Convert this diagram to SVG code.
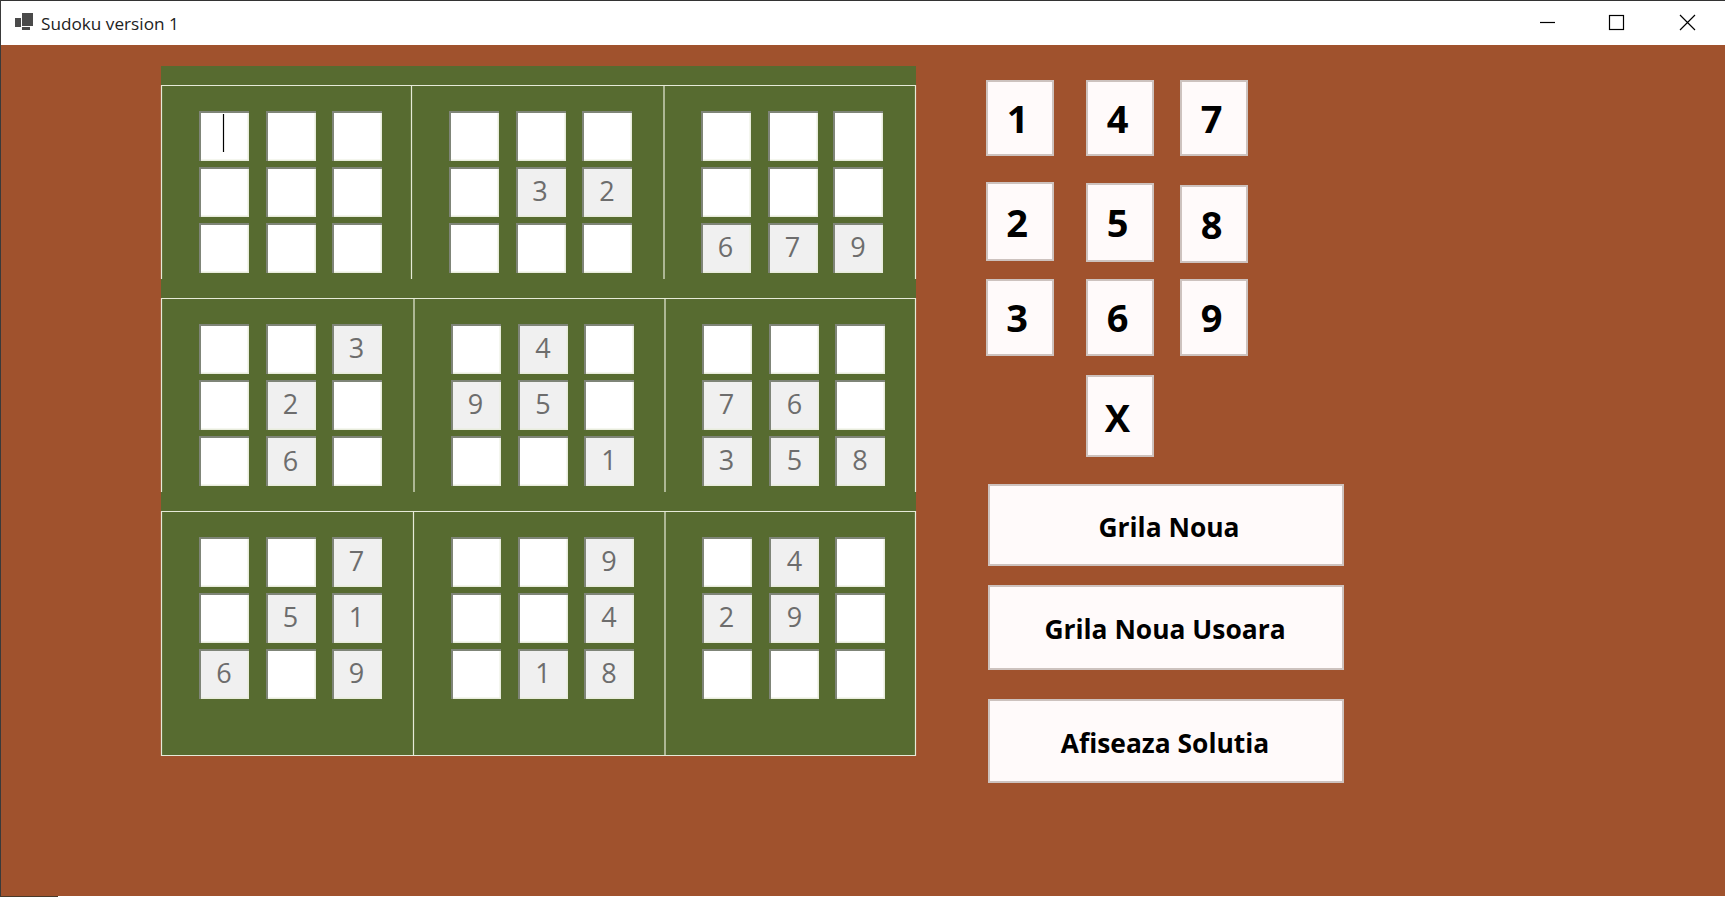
<svg xmlns="http://www.w3.org/2000/svg" width="1725" height="903" viewBox="0 0 1725 903">
<style>
text{font-family:"Open Sans","Noto Sans","Liberation Sans",sans-serif}
.grid{fill:none;stroke:#e6ead8;stroke-width:1.2}
.v{fill:#6d6d6d;font-size:27px;text-anchor:middle}
.b{fill:#000;font-weight:700;text-anchor:middle}
.btn{fill:#fffafa;stroke:#cdc2be;stroke-width:2}
.n{font-size:38px}.w{font-size:26.400px}
.ctl{fill:none;stroke:#000;stroke-width:1.2}
</style>
<defs>
<g id="cb"><rect width="50" height="50" fill="#e8ecdc"/><path d="M0 0H50V2H2V50H0Z" fill="#7f8578"/></g>
<g id="c0"><use href="#cb"/><rect x="2" y="2" width="46.500" height="46.500" fill="#fff"/></g>
<g id="c1"><use href="#cb"/><rect x="2" y="2" width="46.500" height="46.500" fill="#f0f0f0"/></g>
</defs>
<rect width="1725" height="903" fill="#fff"/>
<rect x="0" y="45" width="1725" height="851" fill="#a0522d"/>
<rect x="0" y="0" width="1725" height="1" fill="#333"/>
<rect x="0" y="0" width="1" height="896" fill="#3a3a3a"/>
<g id="titlebar">
<path d="M22 13h11v13H22zM15 18h6v9h-6zM22 27h8v3h-8z" fill="#4a4a4a"/>
<text x="41" y="30" font-size="17.200" fill="#222">Sudoku version 1</text>
<path class="ctl" d="M1540 22.500H1555"/>
<rect class="ctl" x="1609.500" y="15.500" width="14" height="14"/>
<path class="ctl" d="M1680 15L1695 30M1695 15L1680 30"/>
</g>
<g id="board">
<rect x="161" y="66" width="755" height="689" fill="#576b30"/>
<path class="grid" d="M161.500 279V85.500H915.500V279M411.500 85.500V279M664 85.500V279"/>
<path class="grid" d="M161.500 492V298.500H915.500V492M414 298.500V492M665 298.500V492"/>
<path class="grid" d="M161.500 511.500H915.500V755.500H161.500ZM413.500 511.500V755.500M665 511.500V755.500"/>
</g>
<g id="block1">
<use id="c11" href="#c0" x="199" y="111"/><path d="M223.500 114V152" stroke="#000" stroke-width="1.200"/>
<use href="#c0" x="266" y="111"/><use href="#c0" x="332" y="111"/>
<use href="#c0" x="199" y="167"/><use href="#c0" x="266" y="167"/><use href="#c0" x="332" y="167"/>
<use href="#c0" x="199" y="223"/><use href="#c0" x="266" y="223"/><use href="#c0" x="332" y="223"/>
</g>
<g id="block2">
<use href="#c0" x="449" y="111"/><use href="#c0" x="516" y="111"/><use href="#c0" x="582" y="111"/>
<use href="#c0" x="449" y="167"/><use href="#c1" x="516" y="167"/><use href="#c1" x="582" y="167"/>
<use href="#c0" x="449" y="223"/><use href="#c0" x="516" y="223"/><use href="#c0" x="582" y="223"/>
<text class="v" x="540" y="201">3</text><text class="v" x="607" y="201">2</text>
</g>
<g id="block3">
<use href="#c0" x="701" y="111"/><use href="#c0" x="768" y="111"/><use href="#c0" x="833" y="111"/>
<use href="#c0" x="701" y="167"/><use href="#c0" x="768" y="167"/><use href="#c0" x="833" y="167"/>
<use href="#c1" x="701" y="223"/><use href="#c1" x="768" y="223"/><use href="#c1" x="833" y="223"/>
<text class="v" x="725.500" y="257">6</text><text class="v" x="792.500" y="257">7</text><text class="v" x="858" y="257">9</text>
</g>
<g id="block4">
<use href="#c0" x="199" y="324"/><use href="#c0" x="266" y="324"/><use href="#c1" x="332" y="324"/>
<use href="#c0" x="199" y="380"/><use href="#c1" x="266" y="380"/><use href="#c0" x="332" y="380"/>
<use href="#c0" x="199" y="436"/><use href="#c1" x="266" y="436"/><use href="#c0" x="332" y="436"/>
<text class="v" x="356.500" y="358">3</text><text class="v" x="290.500" y="414">2</text><text class="v" x="290.500" y="470.500">6</text>
</g>
<g id="block5">
<use href="#c0" x="451" y="324"/><use href="#c1" x="518" y="324"/><use href="#c0" x="584" y="324"/>
<use href="#c1" x="451" y="380"/><use href="#c1" x="518" y="380"/><use href="#c0" x="584" y="380"/>
<use href="#c0" x="451" y="436"/><use href="#c0" x="518" y="436"/><use href="#c1" x="584" y="436"/>
<text class="v" x="543" y="358">4</text><text class="v" x="475.500" y="414">9</text><text class="v" x="543" y="414">5</text><text class="v" x="609" y="470">1</text>
</g>
<g id="block6">
<use href="#c0" x="702" y="324"/><use href="#c0" x="769" y="324"/><use href="#c0" x="835" y="324"/>
<use href="#c1" x="702" y="380"/><use href="#c1" x="769" y="380"/><use href="#c0" x="835" y="380"/>
<use href="#c1" x="702" y="436"/><use href="#c1" x="769" y="436"/><use href="#c1" x="835" y="436"/>
<text class="v" x="726.500" y="414">7</text><text class="v" x="794.500" y="414">6</text>
<text class="v" x="726.500" y="470">3</text><text class="v" x="794.500" y="470">5</text><text class="v" x="860" y="470">8</text>
</g>
<g id="block7">
<use href="#c0" x="199" y="537"/><use href="#c0" x="266" y="537"/><use href="#c1" x="332" y="537"/>
<use href="#c0" x="199" y="593"/><use href="#c1" x="266" y="593"/><use href="#c1" x="332" y="593"/>
<use href="#c1" x="199" y="649"/><use href="#c0" x="266" y="649"/><use href="#c1" x="332" y="649"/>
<text class="v" x="356.500" y="571">7</text><text class="v" x="290.500" y="627">5</text><text class="v" x="356.500" y="627">1</text>
<text class="v" x="224" y="683">6</text><text class="v" x="356.500" y="683">9</text>
</g>
<g id="block8">
<use href="#c0" x="451" y="537"/><use href="#c0" x="518" y="537"/><use href="#c1" x="584" y="537"/>
<use href="#c0" x="451" y="593"/><use href="#c0" x="518" y="593"/><use href="#c1" x="584" y="593"/>
<use href="#c0" x="451" y="649"/><use href="#c1" x="518" y="649"/><use href="#c1" x="584" y="649"/>
<text class="v" x="609" y="571">9</text><text class="v" x="609" y="627">4</text>
<text class="v" x="543" y="683">1</text><text class="v" x="609" y="683">8</text>
</g>
<g id="block9">
<use href="#c0" x="702" y="537"/><use href="#c1" x="769" y="537"/><use href="#c0" x="835" y="537"/>
<use href="#c1" x="702" y="593"/><use href="#c1" x="769" y="593"/><use href="#c0" x="835" y="593"/>
<use href="#c0" x="702" y="649"/><use href="#c0" x="769" y="649"/><use href="#c0" x="835" y="649"/>
<text class="v" x="794.500" y="571">4</text><text class="v" x="726.500" y="627">2</text><text class="v" x="794.500" y="627">9</text>
</g>
<g id="btn1"><rect class="btn" x="987" y="81" width="66" height="74"/><text class="b n" x="1017.500" y="133">1</text></g>
<g id="btn4"><rect class="btn" x="1087" y="81" width="66" height="74"/><text class="b n" x="1117.500" y="133">4</text></g>
<g id="btn7"><rect class="btn" x="1181" y="81" width="66" height="74"/><text class="b n" x="1211.500" y="133">7</text></g>
<g id="btn2"><rect class="btn" x="987" y="183" width="66" height="77"/><text class="b n" x="1017" y="236.500">2</text></g>
<g id="btn5"><rect class="btn" x="1087" y="184" width="66" height="77"/><text class="b n" x="1117.500" y="237">5</text></g>
<g id="btn8"><rect class="btn" x="1181" y="186" width="66" height="76"/><text class="b n" x="1211.500" y="239">8</text></g>
<g id="btn3"><rect class="btn" x="987" y="280" width="66" height="75"/><text class="b n" x="1017" y="332">3</text></g>
<g id="btn6"><rect class="btn" x="1087" y="280" width="66" height="75"/><text class="b n" x="1117.500" y="332">6</text></g>
<g id="btn9"><rect class="btn" x="1181" y="280" width="66" height="75"/><text class="b n" x="1211.500" y="332">9</text></g>
<g id="btnX"><rect class="btn" x="1087" y="376" width="66" height="80"/><text class="b n" x="1117.500" y="431.500">X</text></g>
<g id="btnNew"><rect class="btn" x="989" y="485" width="354" height="80"/><text class="b w" x="1169" y="537">Grila Noua</text></g>
<g id="btnEasy"><rect class="btn" x="989" y="586" width="354" height="83"/><text class="b w" x="1165" y="639">Grila Noua Usoara</text></g>
<g id="btnSolve"><rect class="btn" x="989" y="700" width="354" height="82"/><text class="b w" x="1165" y="753">Afiseaza Solutia</text></g>
<rect x="0" y="896" width="58" height="1" fill="#4a3a2a"/>
</svg>
